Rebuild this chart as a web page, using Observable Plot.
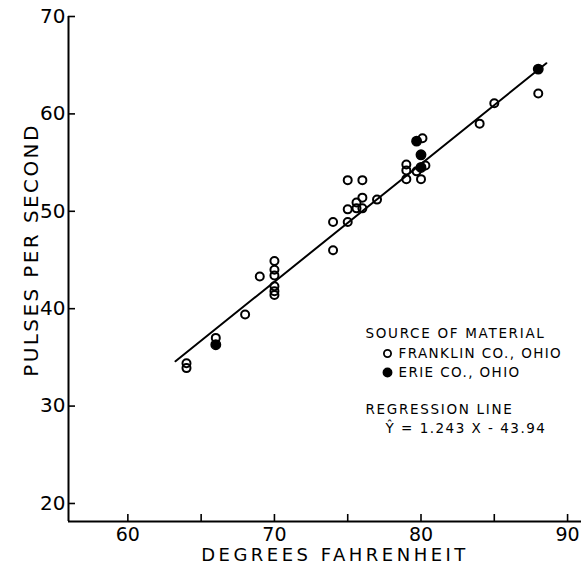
<!DOCTYPE html>
<html><head><meta charset="utf-8">
<script src="https://cdn.jsdelivr.net/npm/d3@7"></script>
<script src="https://cdn.jsdelivr.net/npm/@observablehq/plot@0.6"></script>
<style>
html,body{margin:0;padding:0;background:#fff;}
#chart svg{display:block;}
</style></head><body><div id="chart"></div>
<script>
// Franklin Co., Ohio (open circles)
const franklinX = [64, 64, 66, 68, 69, 70, 70, 70, 70, 70, 70, 74, 74, 75, 75, 75, 76, 75.6, 76, 75.6, 76, 77, 79, 79, 79, 79.7, 80.3, 80, 80.1, 84, 85, 88];
const franklinY = [34.4, 33.9, 37.0, 39.4, 43.3, 44.9, 44.0, 43.4, 42.3, 41.8, 41.4, 46.0, 48.9, 48.9, 50.2, 53.2, 53.2, 50.9, 51.4, 50.3, 50.3, 51.2, 54.8, 54.2, 53.3, 54.1, 54.7, 53.3, 57.5, 59.0, 61.1, 62.1];
// Erie Co., Ohio (filled circles)
const erieX = [66, 79.7, 80, 80, 88];
const erieY = [36.3, 57.2, 55.8, 54.5, 64.6];
// regression line as drawn
const lineX = [63.25, 88.55];
const lineY = [34.6, 65.2];
const xTicks = [60, 65, 70, 75, 80, 85, 90];
const xTickLabels = [60, 70, 80, 90];
const yTicks = [20, 30, 40, 50, 60, 70];
const xDomain = [55.95, 90.95];
const yDomain = [18.15, 70];
const xTitle = "DEGREES FAHRENHEIT";
const yTitle = "PULSES PER SECOND";
const legendTitle = "SOURCE OF MATERIAL";
const seriesNames = ["FRANKLIN CO., OHIO", "ERIE CO., OHIO"];
const regTitle = "REGRESSION LINE";
const regEq = "Ŷ = 1.243 X - 43.94";

const franklin = franklinX.map((x, i) => ({x, y: franklinY[i]}));
const erie = erieX.map((x, i) => ({x, y: erieY[i]}));
const regLine = lineX.map((x, i) => ({x, y: lineY[i]}));

const font = "'DejaVu Sans', sans-serif";
const ML = 68, MT = 16;

const chart = Plot.plot({
  width: 581, height: 565,
  marginLeft: ML, marginRight: 0, marginTop: MT, marginBottom: 44,
  x: {domain: xDomain},
  y: {domain: yDomain},
  style: {fontFamily: font, color: "#000", background: "#fff"},
  marks: [
    Plot.ruleX([xDomain[0]], {strokeWidth: 2}),
    Plot.ruleY([yDomain[0]], {strokeWidth: 2}),
    Plot.axisX(xTicks, {tickSize: -7, tickFormat: () => "", label: null, strokeWidth: 1.6}),
    Plot.axisX(xTickLabels, {tickSize: 0, tickPadding: 6, fontSize: 19, label: null}),
    Plot.axisY(yTicks, {tickSize: -7, tickFormat: () => "", label: null, strokeWidth: 1.6}),
    Plot.axisY(yTicks, {tickSize: 0, tickPadding: 3, fontSize: 20, label: null}),
    Plot.line(regLine, {x: "x", y: "y", stroke: "#000", strokeWidth: 2}),
    Plot.dot(franklin, {x: "x", y: "y", r: 4, stroke: "#000", strokeWidth: 2, fill: "none"}),
    Plot.dot(erie, {x: "x", y: "y", r: 4.7, fill: "#000", stroke: "#000"}),
    Plot.text([xTitle], {text: d => d, frameAnchor: "bottom", textAnchor: "middle", lineAnchor: "middle", dx: 10, dy: 34, fontSize: 18}),
    Plot.text([yTitle], {text: d => d, frameAnchor: "left", textAnchor: "middle", lineAnchor: "middle", rotate: -90, dx: -37, dy: -19, fontSize: 20}),
    Plot.text([legendTitle], {text: d => d, frameAnchor: "top-left", textAnchor: "start", lineAnchor: "middle", dx: 365 - ML, dy: 333 - MT, fontSize: 13.5}),
    Plot.text([seriesNames[0]], {text: d => d, frameAnchor: "top-left", textAnchor: "start", lineAnchor: "middle", dx: 398 - ML, dy: 353 - MT, fontSize: 13.5}),
    Plot.text([seriesNames[1]], {text: d => d, frameAnchor: "top-left", textAnchor: "start", lineAnchor: "middle", dx: 398 - ML, dy: 372 - MT, fontSize: 13.5}),
    Plot.text([regTitle], {text: d => d, frameAnchor: "top-left", textAnchor: "start", lineAnchor: "middle", dx: 365 - ML, dy: 409 - MT, fontSize: 13.5}),
    Plot.text([regEq], {text: d => d, frameAnchor: "top-left", textAnchor: "start", lineAnchor: "middle", dx: 385 - ML, dy: 428 - MT, fontSize: 13.5}),
    Plot.dot([seriesNames[0]], {x: null, y: null, frameAnchor: "top-left", dx: 387 - ML, dy: 353 - MT, r: 3.6, stroke: "#000", strokeWidth: 1.8, fill: "none"}),
    Plot.dot([seriesNames[1]], {x: null, y: null, frameAnchor: "top-left", dx: 387 - ML, dy: 372 - MT, r: 4.2, fill: "#000", stroke: "#000"})
  ]
});
document.getElementById("chart").appendChild(chart);

const spacing = new Map([[xTitle, "3.5px"], [yTitle, "2.4px"], [legendTitle, "1.7px"], [seriesNames[0], "1.4px"], [seriesNames[1], "1.4px"], [regTitle, "1.7px"], [regEq, "1.5px"]]);
d3.select(chart).selectAll("text").each(function() {
  const t = this.textContent;
  if (spacing.has(t)) this.style.letterSpacing = spacing.get(t);
});
</script>
</body></html>
